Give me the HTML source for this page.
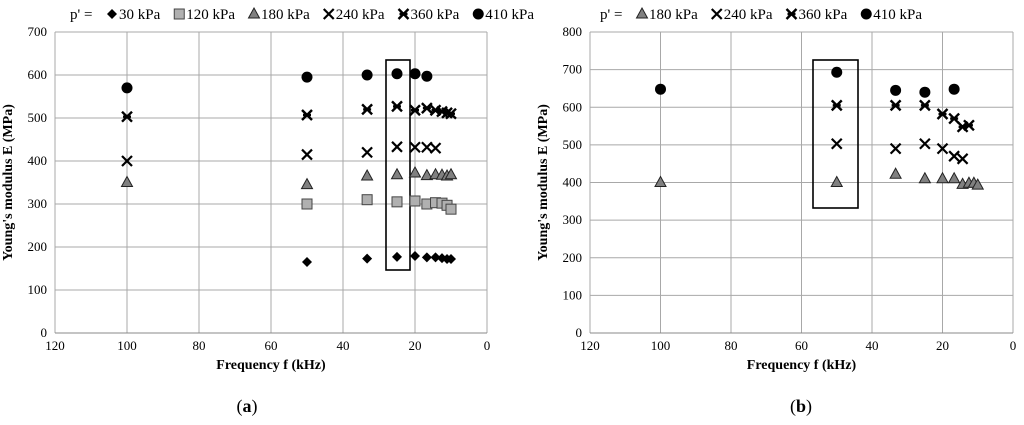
<!DOCTYPE html>
<html><head><meta charset="utf-8"><style>
body{margin:0;background:#fff}
svg{display:block;font-family:"Liberation Serif",serif}
</style></head><body>
<svg width="1024" height="425" viewBox="0 0 1024 425">
<g id="ca"></g>
<g id="cb"></g>
</svg>
<script>
const freqs=[100,50,33.3,25,20,16.7,14.3,12.5,11.1,10];
const xTicks=[120,100,80,60,40,20,0];
const yTicksA=[0,100,200,300,400,500,600,700];
const yTicksB=[0,100,200,300,400,500,600,700,800];
// chart a series (null = absent)
const a30=[null,165,173,177,179,176,176,174,172,172];
const a120=[null,300,310,305,307,300,303,302,297,288];
const a180=[350,345,365,368,372,366,368,367,365,368];
const a240=[400,415,420,433,432,432,430,null,null,null];
const a360=[503,507,520,527,518,523,518,515,512,510];
const a410=[570,595,600,603,603,597,null,null,null,null];
// chart b series
const b180=[400,400,422,410,410,410,395,398,398,393];
const b240=[null,503,490,503,490,470,463,null,null,null];
const b360=[null,605,605,605,582,570,548,552,null,null];
const b410=[648,693,645,640,null,648,null,null,null,null];
const NS='http://www.w3.org/2000/svg';
function mk(p,t,at){const e=document.createElementNS(NS,t);for(const k in at)e.setAttribute(k,at[k]);p.appendChild(e);return e;}
function marker(g,type,x,y){
 let e;
 if(type==='dia'){e=mk(g,'polygon',{points:`${x},${y-5} ${x+5},${y} ${x},${y+5} ${x-5},${y}`,fill:'#000'});}
 else if(type==='sq'){e=mk(g,'rect',{x:x-5,y:y-5,width:10,height:10,fill:'#b0b0b0',stroke:'#444','stroke-width':1});}
 else if(type==='tri'){e=mk(g,'polygon',{points:`${x},${y-6} ${x+5.5},${y+4} ${x-5.5},${y+4}`,fill:'#808080',stroke:'#222','stroke-width':1});}
 else if(type==='x'){e=mk(g,'path',{d:`M${x-5} ${y-5}L${x+5} ${y+5}M${x+5} ${y-5}L${x-5} ${y+5}`,stroke:'#000','stroke-width':2.2});}
 else if(type==='star'){e=mk(g,'path',{d:`M${x-5} ${y-5}L${x+5} ${y+5}M${x+5} ${y-5}L${x-5} ${y+5}M${x-4} ${y}L${x+4} ${y}`,stroke:'#000','stroke-width':2.4});}
 else {e=mk(g,'circle',{cx:x,cy:y,r:5.5,fill:'#000'});}
 return e;
}
function chart(g,L,R,T,B,ymax,yTicks,series,legX,box,cap,capX){
 const sx=v=>R-(v/120)*(R-L), sy=v=>B-(v/ymax)*(B-T);
 xTicks.forEach(t=>{const l=mk(g,'line',{x1:sx(t),x2:sx(t),y1:T,y2:B,stroke:'#a8a8a8','stroke-width':1});
  
  const tx=mk(g,'text',{x:sx(t),y:B+17,'text-anchor':'middle','font-size':13});tx.textContent=t;
  });
 yTicks.forEach(t=>{const l=mk(g,'line',{x1:L,x2:R,y1:sy(t),y2:sy(t),stroke:'#a8a8a8','stroke-width':1});
  
  const tx=mk(g,'text',{x:L-8,y:sy(t)+4,'text-anchor':'end','font-size':13});tx.textContent=t;
  });
 mk(g,'line',{x1:L,x2:R,y1:B,y2:B,stroke:'#888'});
 const xt=mk(g,'text',{x:(L+R)/2,y:B+36,'text-anchor':'middle','font-size':14,'font-weight':'bold'});xt.textContent='Frequency f (kHz)';
 
 const yt=mk(g,'text',{transform:`translate(${L-43},${(T+B)/2}) rotate(-90)`,'text-anchor':'middle','font-size':14,'font-weight':'bold'});yt.textContent="Young's modulus E (MPa)";
 
 const bx=mk(g,'rect',{x:box[0],y:box[1],width:box[2],height:box[3],fill:'none',stroke:'#000','stroke-width':1.6});
 
 series.forEach(s=>{s.vals.forEach((v,i)=>{if(v==null)return;const m=marker(g,s.type,sx(freqs[i]),sy(v));
  });});
 let lx=legX;const ly=19;
 const p=mk(g,'text',{x:lx,y:ly,'font-size':15});p.textContent="p' =";lx+=37;
 series.forEach(s=>{const m=marker(g,s.type,lx+5,ly-5);
  const t=mk(g,'text',{x:lx+12,y:ly,'font-size':15});t.textContent=s.label;
  
  lx+=12+t.getComputedTextLength()+14;});
 const c=mk(g,'text',{x:capX,y:412,'text-anchor':'middle','font-size':18});c.innerHTML='(<tspan font-weight="bold">'+cap+'</tspan>)';
 
}
chart(document.getElementById('ca'),55,487,32,333,700,yTicksA,[
 {type:'dia',label:'30 kPa',vals:a30},{type:'sq',label:'120 kPa',vals:a120},{type:'tri',label:'180 kPa',vals:a180},
 {type:'x',label:'240 kPa',vals:a240},{type:'star',label:'360 kPa',vals:a360},{type:'dot',label:'410 kPa',vals:a410}],
 70,[386,60,24,210],'a',247);
chart(document.getElementById('cb'),590,1013,32,333,800,yTicksB,[
 {type:'tri',label:'180 kPa',vals:b180},{type:'x',label:'240 kPa',vals:b240},{type:'star',label:'360 kPa',vals:b360},{type:'dot',label:'410 kPa',vals:b410}],
 600,[813,60,45,148],'b',801);
</script>
</body></html>
